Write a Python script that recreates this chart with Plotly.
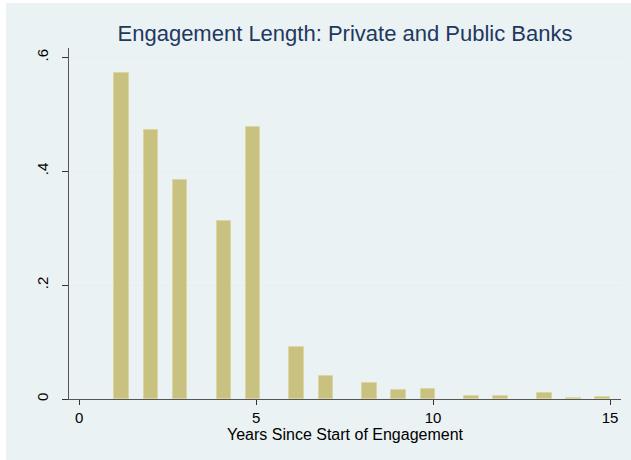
import math
import plotly.graph_objects as go

# Data: engagement length (years) and histogram density
years = [1, 2, 3, 4, 5, 6, 7, 8, 9, 10, 11, 12, 13, 14, 15]
density = [0.572, 0.472, 0.385, 0.313, 0.478, 0.092, 0.040, 0.028, 0.0165,
           0.018, 0.005, 0.0048, 0.010, 0.0025, 0.0035]
n_bins = 34
x_ticks = [0, 5, 10, 15]
y_ticks = [0, 0.2, 0.4, 0.6]
y_tick_labels = ["0", ".2", ".4", ".6"]
title_text = "Engagement Length: Private and Public Banks"
x_title = "Years Since Start of Engagement"

# histogram bin placement (start = min, width = range / bins)
start = min(years)
width = (max(years) - min(years)) / n_bins
centers = []
for y in years:
    k = int(math.floor((y - start) / width + 1e-9))
    k = min(k, n_bins - 1)
    centers.append(start + (k + 0.5) * width)

W, H = 631, 460
ml, mr, mt, mb = 69, 10, 48, 61
pw, ph = W - ml - mr, H - mt - mb

def px2paper_x(px):
    return (px - ml) / pw

def py2paper_y(py):
    return (H - mb - py) / ph

fig = go.Figure()
fig.add_trace(go.Bar(
    x=centers, y=density, width=width,
    marker=dict(color="#C9C17F", line=dict(color="#DCD6A4", width=1)),
    hoverinfo="x+y",
))

fig.update_layout(
    width=W, height=H,
    margin=dict(l=ml, r=mr, t=mt, b=mb, pad=0),
    paper_bgcolor="white",
    plot_bgcolor="white",
    showlegend=False,
    font=dict(family="Liberation Sans, Arial, sans-serif", size=15, color="#000000"),
    title=dict(text=title_text, x=0.5, xref="paper", xanchor="center",
               y=1 - 33 / H, yref="container", yanchor="middle",
               font=dict(size=22, color="#22385F")),
    shapes=[dict(type="rect", xref="paper", yref="paper", layer="below",
                 x0=px2paper_x(6), x1=px2paper_x(W + 5),
                 y0=py2paper_y(H + 5), y1=py2paper_y(3),
                 fillcolor="#EAF2F3", line=dict(width=0))],
    bargap=0,
)

fig.update_xaxes(
    range=[-0.285, 15.31], tickmode="array", tickvals=x_ticks,
    ticks="outside", ticklen=5, tickcolor="#333333", tickwidth=1,
    showline=True, linecolor="#555555", linewidth=1,
    showgrid=False, zeroline=False,
    tickfont=dict(size=15),
    title=dict(text=x_title, standoff=1, font=dict(size=16)),
)
fig.update_yaxes(
    range=[0, 0.6165], tickmode="array", tickvals=y_ticks, ticktext=y_tick_labels,
    ticks="outside", ticklen=6, tickcolor="#333333", tickwidth=1,
    showline=True, linecolor="#555555", linewidth=1,
    showgrid=True, gridcolor="#E6EEF0", gridwidth=1,
    zeroline=False, tickangle=-90, ticklabelstandoff=8,
    tickfont=dict(size=15),
)

fig.write_html("out.html")
